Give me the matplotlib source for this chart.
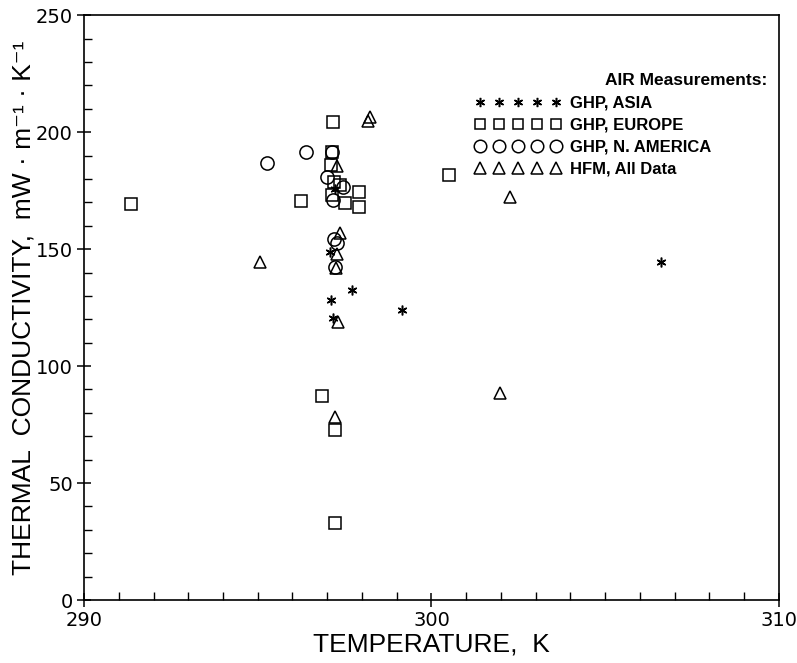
import matplotlib
matplotlib.use("Agg")
import matplotlib.pyplot as plt
from matplotlib.ticker import MultipleLocator

plt.rcParams['font.family'] = ['DejaVu Sans']

# --- data ---
asia_T = [297.08, 297.70, 297.10, 297.17, 299.14, 306.60, 297.22]
asia_k = [148.8, 132.5, 128.2, 120.5, 123.9, 144.6, 175.6]

europe_T = [291.35, 297.16, 296.24, 297.10, 297.20, 297.37, 297.90, 297.50, 297.90,
            297.15, 300.49, 296.84, 297.22, 297.22, 297.15]
europe_k = [169.5, 204.4, 170.6, 186.0, 178.8, 177.4, 174.5, 169.6, 168.0,
            191.5, 181.6, 87.2, 72.6, 32.9, 173.0]

namer_T = [295.27, 296.39, 297.13, 296.98, 297.45, 297.17, 297.20, 297.27, 297.22]
namer_k = [186.9, 191.6, 191.6, 181.0, 176.6, 171.0, 154.5, 152.5, 142.4]

hfm_T = [295.06, 297.27, 298.23, 298.17, 297.37, 297.27, 297.25, 297.30, 297.22,
         301.97, 302.26]
hfm_k = [144.6, 185.5, 206.4, 205.0, 156.8, 148.0, 142.0, 119.0, 78.3,
         88.5, 172.4]

labels = ["GHP, ASIA", "GHP, EUROPE", "GHP, N. AMERICA", "HFM, All Data"]
legend_title = "AIR Measurements:"

fig = plt.figure(figsize=(7.97, 6.63), dpi=100)
ax = fig.add_axes([0.1054, 0.095, 0.872, 0.882])

mk = dict(linestyle='none', color='black', markerfacecolor='none', markeredgewidth=1.1)
ax.plot(asia_T, asia_k, marker=(6, 2, 0), markersize=7, label=labels[0], **mk)
ax.plot(europe_T, europe_k, marker='s', markersize=8, label=labels[1], **mk)
ax.plot(namer_T, namer_k, marker='o', markersize=9.5, label=labels[2], **mk)
ax.plot(hfm_T, hfm_k, marker='^', markersize=9, label=labels[3], **mk)

ax.set_xlim(290, 310)
ax.set_ylim(0, 250)
ax.xaxis.set_major_locator(MultipleLocator(10))
ax.xaxis.set_minor_locator(MultipleLocator(1))
ax.yaxis.set_major_locator(MultipleLocator(50))
ax.yaxis.set_minor_locator(MultipleLocator(10))
ax.tick_params(which='major', direction='inout', length=10, width=1.1, labelsize=14, pad=3)
ax.tick_params(which='minor', direction='in', length=6, width=1.0)
for s in ax.spines.values():
    s.set_linewidth(1.2)

lab_font = ['Liberation Sans', 'DejaVu Sans']
ax.set_xlabel("TEMPERATURE,  K", fontsize=19, labelpad=2, family=lab_font)
ax.set_ylabel("THERMAL  CONDUCTIVITY,  mW · m⁻¹ · K⁻¹", fontsize=19, family=lab_font)
ax.yaxis.set_label_coords(-0.07, 0.50)

bold = {'family': ['Liberation Sans', 'DejaVu Sans'], 'weight': 'bold', 'size': 12}
leg = ax.legend(loc='upper left', bbox_to_anchor=(0.562, 0.862), numpoints=5,
                handlelength=5.2, handletextpad=0.5, frameon=False,
                borderaxespad=0, borderpad=0, labelspacing=0.42,
                prop=bold, markerscale=0.95)
ax.text(0.983, 0.889, legend_title, transform=ax.transAxes, ha='right', va='center',
        fontsize=12.5, fontweight='bold', family=['Liberation Sans', 'DejaVu Sans'])

fig.savefig("out.png", dpi=100)
